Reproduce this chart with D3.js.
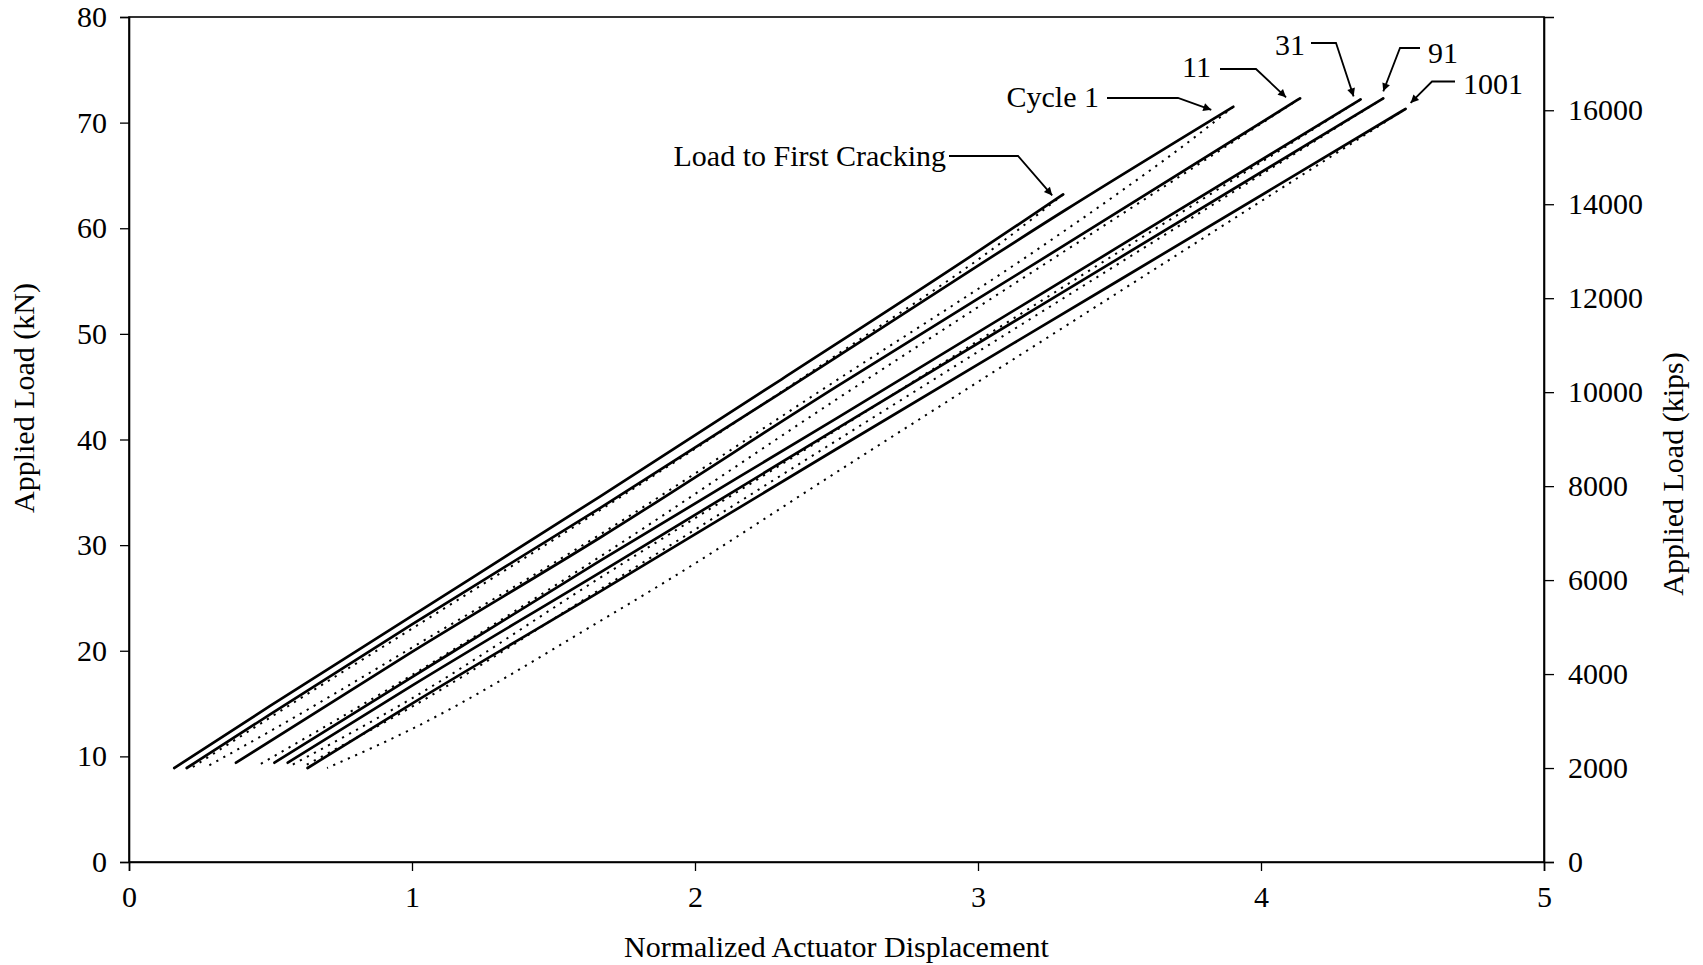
<!DOCTYPE html>
<html>
<head>
<meta charset="utf-8">
<script src="https://cdn.jsdelivr.net/npm/d3@7"></script>
<style>
  html, body { margin: 0; padding: 0; background: #fff; }
  svg { display: block; }
  text { font-family: "Liberation Serif", "Times New Roman", serif; fill: #000; }
</style>
</head>
<body>
<svg id="chart" width="1703" height="965"></svg>
<script>
// ---------------- data ----------------
const displacementTicks = [0, 1, 2, 3, 4, 5];
const loadTicksKN = [0, 10, 20, 30, 40, 50, 60, 70, 80];
const loadTicksKips = [0, 2000, 4000, 6000, 8000, 10000, 12000, 14000, 16000];
const kipsPerKN = 224.809;

// [normalized displacement, applied load kN]
const firstCrackLoading   = [[0.160, 8.9], [0.50, 14.8], [1.00, 23.3], [1.664, 34.6], [2.306, 45.7], [3.00, 57.8], [3.301, 63.2]];
const firstCrackUnloading = [[3.301, 63.2], [3.10, 59.0], [2.50, 48.0], [1.664, 33.3], [1.00, 22.1], [0.50, 13.7], [0.22, 8.9]];
const cycle1Loading       = [[0.204, 8.9], [0.50, 14.0], [1.00, 22.5], [1.664, 33.5], [2.50, 47.8], [3.313, 61.8], [3.902, 71.5]];
const cycle1Unloading     = [[3.902, 71.5], [3.76, 68.5], [3.50, 63.4], [3.21, 58.0], [2.50, 45.6], [1.664, 31.0], [1.00, 20.3], [0.50, 12.4], [0.28, 9.1]];
const cycle11Loading      = [[0.378, 9.4], [1.00, 19.9], [1.664, 30.7], [2.50, 45.0], [3.30, 58.3], [4.138, 72.3]];
const cycle11Unloading    = [[4.138, 72.3], [3.50, 61.2], [2.50, 43.8], [1.664, 28.9], [1.00, 17.7], [0.46, 9.2]];
const cycle31Loading      = [[0.514, 9.4], [1.00, 17.5], [1.664, 28.5], [2.50, 42.0], [3.50, 58.3], [4.352, 72.2]];
const cycle31Unloading    = [[4.352, 72.2], [3.50, 57.8], [2.50, 40.9], [1.664, 26.9], [1.00, 15.5], [0.57, 9.1]];
const cycle91Loading      = [[0.561, 9.4], [1.00, 16.7], [1.664, 27.4], [2.50, 41.0], [3.50, 57.2], [4.432, 72.3]];
const cycle91Unloading    = [[4.432, 72.3], [3.50, 56.7], [2.50, 39.9], [1.664, 25.8], [1.00, 14.7], [0.62, 9.1]];
const cycle1001Loading    = [[0.631, 8.9], [1.00, 15.0], [1.664, 25.6], [2.50, 39.1], [3.50, 55.1], [4.511, 71.3]];
const cycle1001Unloading  = [[4.511, 71.3], [3.50, 54.0], [2.50, 36.9], [1.912, 26.8], [1.664, 22.8], [1.00, 12.6], [0.70, 8.9]];

const loadingSeries = [firstCrackLoading, cycle1Loading, cycle11Loading, cycle31Loading, cycle91Loading, cycle1001Loading];
const unloadingSeries = [firstCrackUnloading, cycle1Unloading, cycle11Unloading, cycle31Unloading, cycle91Unloading, cycle1001Unloading];

const seriesLabels = ["Load to First Cracking", "Cycle 1", "11", "31", "91", "1001"];

// ---------------- layout ----------------
const svg = d3.select("#chart");
const plotLeft = 129, plotRight = 1544, plotTop = 17, plotBottom = 862;
const FONT = 30;

const x = d3.scaleLinear().domain([0, 5]).range([plotLeft, plotRight]);
const y = d3.scaleLinear().domain([0, 80]).range([plotBottom, plotTop]);
const y2 = d3.scaleLinear().domain([0, 80 * kipsPerKN]).range([plotBottom, plotTop]);

// frame
svg.append("rect")
  .attr("x", plotLeft).attr("y", plotTop)
  .attr("width", plotRight - plotLeft).attr("height", plotBottom - plotTop)
  .attr("fill", "none").attr("stroke", "#000").attr("stroke-width", 1.6);

function styleAxis(g) {
  g.select(".domain").attr("stroke", "#000").attr("stroke-width", 1.6);
  g.selectAll(".tick line").attr("stroke", "#000").attr("stroke-width", 1.3);
  g.selectAll(".tick text").attr("font-size", FONT).attr("font-family", "Liberation Serif").attr("fill", "#000");
}

svg.append("g")
  .attr("transform", `translate(0,${plotBottom})`)
  .call(d3.axisBottom(x).tickValues(displacementTicks).tickSize(9).tickPadding(15).tickFormat(d3.format("d")))
  .call(styleAxis);

svg.append("g")
  .attr("transform", `translate(${plotLeft},0)`)
  .call(d3.axisLeft(y).tickValues(loadTicksKN).tickSize(9).tickPadding(13).tickFormat(d3.format("d")))
  .call(styleAxis);

svg.append("g")
  .attr("transform", `translate(${plotRight},0)`)
  .call(d3.axisRight(y2).tickValues(loadTicksKips).tickSize(10).tickPadding(14).tickFormat(d3.format("d")))
  .call(styleAxis);

// axis titles
svg.append("text")
  .attr("x", (plotLeft + plotRight) / 2).attr("y", 957)
  .attr("text-anchor", "middle").attr("font-size", FONT)
  .text("Normalized Actuator Displacement");

svg.append("text")
  .attr("transform", `translate(34,398) rotate(-90)`)
  .attr("text-anchor", "middle").attr("font-size", FONT)
  .text("Applied Load (kN)");

svg.append("text")
  .attr("transform", `translate(1683,474) rotate(-90)`)
  .attr("text-anchor", "middle").attr("font-size", FONT)
  .text("Applied Load (kips)");

// series
const line = d3.line().curve(d3.curveMonotoneX).x(d => x(d[0])).y(d => y(d[1]));

svg.append("g").selectAll("path")
  .data(unloadingSeries).join("path")
  .attr("d", line)
  .attr("fill", "none").attr("stroke", "#000")
  .attr("stroke-width", 2)
  .attr("stroke-dasharray", "2.2,5.8");

svg.append("g").selectAll("path")
  .data(loadingSeries).join("path")
  .attr("d", line)
  .attr("fill", "none").attr("stroke", "#000")
  .attr("stroke-width", 2.7)
  .attr("stroke-linejoin", "round").attr("stroke-linecap", "round");

// annotations: leader lines from label to end of loading branch
svg.append("defs").append("marker")
  .attr("id", "arrow").attr("viewBox", "0 0 10 10")
  .attr("refX", 10).attr("refY", 5)
  .attr("markerWidth", 10).attr("markerHeight", 8)
  .attr("markerUnits", "userSpaceOnUse")
  .attr("orient", "auto")
  .append("path").attr("d", "M0,0 L10,5 L0,10 Z").attr("fill", "#000");

const annotationLayout = [
  { tx: 946,  ty: 155, anchor: "end",   hx: 949,  ex: 1018, ey: 156, dx: -11, dy: 1 },
  { tx: 1099, ty: 96,  anchor: "end",   hx: 1107, ex: 1178, ey: 98,  dx: -22, dy: 3 },
  { tx: 1211, ty: 66,  anchor: "end",   hx: 1220, ex: 1256, ey: 69,  dx: -14, dy: -1 },
  { tx: 1305, ty: 44,  anchor: "end",   hx: 1311, ex: 1336, ey: 43,  dx: -7,  dy: -3 },
  { tx: 1428, ty: 52,  anchor: "start", hx: 1420, ex: 1400, ey: 48,  dx: 0,   dy: -7 },
  { tx: 1463, ty: 83,  anchor: "start", hx: 1455, ex: 1432, ey: 81.5, dx: 5,  dy: -6 }
];

const ann = svg.append("g");
annotationLayout.forEach((a, i) => {
  const end = loadingSeries[i][loadingSeries[i].length - 1];
  const tipX = x(end[0]) + a.dx, tipY = y(end[1]) + a.dy;
  ann.append("path")
    .attr("d", `M${a.hx},${a.ey} L${a.ex},${a.ey} L${tipX},${tipY}`)
    .attr("fill", "none").attr("stroke", "#000").attr("stroke-width", 1.8)
    .attr("marker-end", "url(#arrow)");
  ann.append("text")
    .attr("x", a.tx).attr("y", a.ty).attr("dy", "0.35em")
    .attr("text-anchor", a.anchor).attr("font-size", FONT)
    .text(seriesLabels[i]);
});
</script>
</body>
</html>
